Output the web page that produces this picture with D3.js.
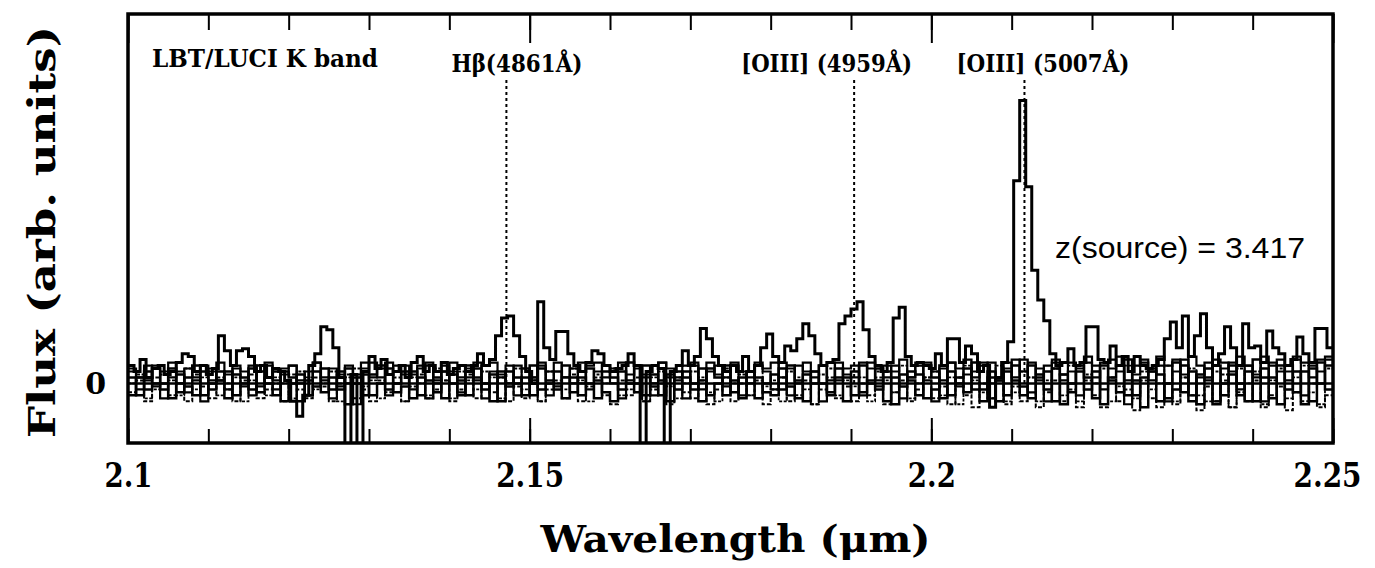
<!DOCTYPE html>
<html>
<head>
<meta charset="utf-8">
<script src="https://cdn.jsdelivr.net/npm/d3@7"></script>
<style>
  body { margin: 0; background: #fff; }
  svg { display: block; }
</style>
</head>
<body>
<svg id="chart" width="1375" height="568"></svg>
<script>
// wavelength grid (micron)
const xDomain = [2.1, 2.25];
const yDomain = [-1, 6.2];
const mainStart = 2.1, mainStep = 0.00075;
const noiseStart = 2.1, noiseStep = 0.001;

const minorTicks = d3.range(0, 16).map(i => +(2.1 + i * 0.01).toFixed(2));
const majorTicks = [2.1, 2.15, 2.2, 2.25];
const majorLabels = ["2.1", "2.15", "2.2", "2.25"];

const redshift = 3.417;
const lineRest = [4861, 4959, 5007];
const lineNames = ["H\u03B2(4861\u00C5)", "[OIII] (4959\u00C5)", "[OIII] (5007\u00C5)"];

// spectrum with the lines (flux, arb. units), 0.00075 um bins
const mainFlux = [
  0.3, 0.2, 0.4, 0.1, 0.25, 0.3, 0.15, 0.2, 0.35, 0.5,
  0.45, 0.2, 0.3, 0.15, 0.25, 0.8, 0.55, 0.3, 0.55, 0.58,
  0.45, 0.2, 0.3, 0.1, 0.25, 0.2, 0.05, -0.3, -0.55, -0.2,
  0.3, 0.5, 0.95, 0.9, 0.6, 0.1, -1.5, 0.15, -1.5, 0.2,
  0.45, 0.25, 0.4, 0.15, 0.2, 0.3, 0.1, 0.35, 0.45, 0.2,
  0.3, 0.2, 0.35, 0.15, 0.25, 0.3, 0.2, 0.3, 0.5, 0.3,
  0.4, 0.8, 1.1, 1.13, 0.8, 0.45, 0.2, 0.0, 1.37, 0.6,
  0.4, 0.87, 0.87, 0.5, 0.3, 0.2, 0.35, 0.55, 0.5, 0.3,
  0.2, 0.25, 0.3, 0.5, 0.3, -1.5, 0.2, 0.3, 0.25, -1.5,
  0.2, 0.3, 0.55, 0.3, 0.45, 0.92, 0.75, 0.45, 0.3, 0.2,
  0.3, 0.2, 0.45, 0.2, 0.3, 0.6, 0.83, 0.45, 0.35, 0.63,
  0.55, 0.75, 1.0, 0.8, 0.5, 0.3, 0.35, 0.4, 1.0, 1.13,
  1.25, 1.37, 0.9, 0.45, 0.3, 0.2, 0.35, 1.1, 1.28, 0.45,
  0.3, 0.35, 0.3, 0.25, 0.5, 0.3, 0.75, 0.75, 0.35, 0.63,
  0.5, 0.2, 0.3, -0.4, 0.1, 0.35, 0.7, 3.4, 4.75, 3.3,
  1.9, 1.4, 1.05, 0.5, 0.3, 0.35, 0.58, 0.3, 0.35, 0.95,
  0.95, 0.4, 0.35, 0.63, 0.3, 0.45, 0.2, 0.45, 0.3, 0.25,
  0.3, 0.4, 0.75, 1.03, 0.6, 1.13, 0.45, 0.8, 1.17, 0.6,
  0.3, 0.5, 0.95, 0.6, 0.3, 1.0, 0.6, 0.63, 0.35, 0.88,
  0.6, 0.5, 0.3, 0.4, 0.78, 0.5, 0.35, 0.92, 0.92, 0.6
];

// the other traces, 0.001 um bins
const noiseA = [
  0.1, -0.2, 0.2, 0.0, -0.1, 0.25, -0.15, 0.1, 0.3, -0.2,
  0.0, 0.2, -0.25, 0.15, 0.1, -0.1, 0.3, 0.0, -0.2, 0.2,
  0.1, -0.3, 0.05, 0.2, -0.15, 0.1, -0.1, 0.25, 0.0, -0.2,
  0.15, 0.3, -0.1, 0.0, 0.2, -0.25, 0.1, 0.05, -0.15, 0.2,
  0.0, -0.2, 0.3, 0.1, -0.1, 0.15, -0.3, 0.2, 0.0, 0.1,
  -0.2, 0.25, 0.05, -0.1, 0.3, -0.15, 0.1, 0.0, -0.25, 0.2,
  0.1, -0.1, 0.35, 0.0, -0.2, 0.15, 0.05, -0.3, 0.2, 0.1,
  -0.1, 0.25, -0.2, 0.0, 0.3, -0.15, 0.1, 0.2, -0.25, 0.0,
  0.15, -0.1, 0.3, 0.05, -0.3, 0.2, 0.0, -0.15, 0.25, 0.1,
  -0.2, 0.3, 0.0, -0.1, 0.2, -0.35, 0.15, 0.05, -0.2, 0.3,
  0.1, -0.25, 0.2, 0.0, -0.15, 0.35, -0.1, 0.1, -0.3, 0.2,
  0.05, -0.2, 0.3, 0.15, -0.1, 0.25, -0.35, 0.0, 0.2, 0.1,
  -0.25, 0.3, 0.05, -0.15, 0.4, -0.2, 0.1, 0.25, -0.3, 0.0,
  0.35, -0.15, 0.2, -0.35, 0.1, 0.3, -0.2, 0.15, 0.0, -0.3,
  0.4, 0.1, -0.25, 0.3, -0.1, 0.2, -0.35, 0.25, 0.0, 0.3
];
const noiseB = [
  -0.2, 0.1, -0.1, 0.25, 0.0, -0.25, 0.15, -0.05, -0.2, 0.2,
  -0.1, 0.05, 0.2, -0.2, 0.0, 0.25, -0.15, 0.1, 0.2, -0.3,
  0.0, 0.15, -0.2, -0.05, 0.25, -0.1, 0.2, -0.35, 0.1, 0.15,
  -0.2, 0.0, 0.25, -0.15, -0.05, 0.2, -0.2, 0.3, 0.1, -0.25,
  0.15, 0.05, -0.2, 0.25, 0.0, -0.3, 0.2, -0.05, 0.1, -0.2,
  0.3, -0.1, 0.0, 0.2, -0.25, 0.1, -0.2, 0.25, 0.05, -0.15,
  -0.3, 0.2, 0.0, -0.15, 0.3, -0.05, -0.2, 0.15, -0.1, 0.2,
  0.0, -0.3, 0.25, 0.1, -0.2, 0.05, -0.25, 0.2, 0.1, -0.15,
  -0.2, 0.25, -0.05, -0.25, 0.15, 0.0, 0.3, -0.2, 0.1, -0.3,
  0.2, -0.15, 0.05, 0.25, -0.3, 0.1, -0.05, 0.2, 0.15, -0.25,
  -0.1, 0.3, -0.2, 0.1, 0.25, -0.1, -0.3, 0.2, 0.05, -0.2,
  0.3, -0.05, -0.25, 0.1, 0.2, -0.3, 0.15, -0.15, 0.3, -0.1,
  0.2, -0.35, 0.1, 0.3, -0.2, 0.05, -0.4, 0.2, 0.15, -0.25,
  -0.1, 0.3, -0.3, 0.15, 0.25, -0.35, 0.0, 0.3, -0.2, 0.2,
  -0.3, 0.25, 0.1, -0.35, 0.3, -0.15, 0.2, -0.3, 0.35, -0.1
];
const noiseC = [
  0.0, 0.15, -0.25, -0.1, 0.2, 0.05, -0.2, 0.25, -0.1, 0.1,
  0.2, -0.2, 0.0, 0.1, -0.3, 0.05, 0.2, -0.2, 0.1, 0.0,
  -0.25, 0.2, 0.1, -0.1, 0.0, 0.2, -0.3, 0.1, 0.25, -0.05,
  0.05, -0.25, 0.15, 0.2, -0.3, 0.1, 0.0, -0.2, 0.25, 0.05,
  -0.25, 0.2, 0.05, -0.1, 0.2, 0.1, -0.25, 0.0, 0.25, -0.1,
  0.05, -0.3, 0.2, 0.0, -0.1, 0.25, 0.05, -0.3, 0.15, 0.0,
  0.25, -0.2, -0.1, 0.3, -0.3, 0.1, 0.2, -0.05, -0.25, 0.0,
  0.2, 0.1, -0.15, -0.3, 0.25, 0.0, 0.15, -0.2, 0.3, -0.05,
  0.05, -0.3, 0.2, 0.1, -0.1, -0.35, 0.15, 0.25, -0.2, 0.05,
  -0.05, 0.1, -0.3, 0.2, 0.05, -0.15, 0.3, -0.25, 0.0, 0.1,
  0.2, -0.2, 0.1, -0.35, 0.3, 0.05, -0.15, 0.0, 0.3, -0.3,
  -0.15, 0.2, 0.1, -0.3, 0.05, 0.25, -0.2, 0.3, -0.3, 0.15,
  0.0, 0.25, -0.3, -0.05, 0.3, -0.25, 0.2, -0.1, 0.0, 0.3,
  -0.3, 0.1, 0.25, -0.2, -0.3, 0.2, 0.15, -0.4, 0.25, 0.0,
  0.2, -0.35, 0.05, 0.25, -0.25, 0.1, 0.3, -0.15, -0.35, 0.25
];
const noiseD = [
  0.2, -0.1, 0.05, 0.3, -0.25, 0.1, 0.2, -0.15, 0.05, -0.3,
  0.25, 0.05, -0.1, 0.3, 0.2, -0.2, -0.05, 0.3, -0.1, 0.15,
  0.3, 0.0, -0.2, 0.35, 0.05, -0.25, 0.15, 0.0, -0.35, 0.25,
  0.35, 0.1, -0.2, 0.3, 0.15, -0.1, 0.3, -0.25, 0.0, 0.3,
  0.2, -0.15, 0.1, 0.35, -0.25, 0.2, 0.1, 0.3, -0.2, 0.25,
  0.1, 0.35, -0.2, -0.05, 0.1, 0.0, 0.35, -0.1, 0.2, 0.3,
  0.0, -0.25, 0.15, 0.25, 0.1, -0.2, 0.35, 0.1, 0.05, -0.25,
  0.3, -0.1, 0.35, 0.15, -0.05, 0.3, -0.2, 0.1, 0.35, 0.2,
  -0.1, 0.35, -0.2, 0.3, 0.2, 0.1, -0.3, 0.35, 0.05, 0.25,
  0.3, -0.2, 0.35, -0.05, 0.1, 0.3, -0.25, 0.1, 0.35, 0.05,
  -0.3, 0.25, 0.35, -0.05, 0.15, 0.2, 0.35, -0.25, 0.1, 0.35,
  0.1, 0.4, -0.15, 0.25, -0.3, 0.35, 0.05, 0.2, -0.2, 0.35,
  0.3, -0.1, 0.4, 0.2, -0.35, 0.15, 0.35, 0.05, 0.3, -0.3,
  0.2, 0.4, -0.2, 0.1, 0.35, -0.3, 0.25, 0.35, -0.1, 0.3,
  0.15, -0.3, 0.35, 0.2, 0.05, 0.4, -0.2, 0.3, 0.2, 0.4
];
const noiseE = [
  -0.15, 0.05, -0.3, 0.1, 0.15, -0.2, 0.0, -0.3, 0.15, -0.05,
  -0.25, 0.1, -0.1, -0.3, 0.05, 0.15, -0.25, -0.1, 0.0, -0.3,
  0.15, -0.1, -0.25, 0.1, -0.05, -0.3, 0.0, 0.15, -0.25, -0.1,
  -0.3, 0.05, -0.15, 0.1, -0.3, -0.05, 0.15, -0.25, -0.1, 0.05,
  -0.3, -0.1, 0.15, -0.25, 0.0, -0.15, 0.1, -0.3, -0.05, -0.25,
  0.1, -0.3, -0.1, 0.05, -0.25, 0.15, -0.3, -0.05, 0.1, -0.2,
  -0.35, 0.05, -0.2, 0.1, -0.3, -0.1, 0.0, -0.35, 0.1, -0.15,
  -0.25, 0.05, -0.35, -0.1, 0.1, -0.3, 0.0, -0.2, 0.05, -0.35,
  -0.1, 0.1, -0.3, -0.2, 0.05, -0.35, -0.1, 0.1, -0.25, -0.05,
  -0.3, 0.0, -0.2, 0.1, -0.35, -0.15, 0.05, -0.3, -0.1, 0.1,
  -0.25, -0.05, -0.35, 0.1, -0.2, -0.4, 0.0, -0.25, 0.1, -0.35,
  -0.05, -0.3, 0.1, -0.4, -0.15, 0.05, -0.3, -0.1, -0.4, 0.05,
  -0.2, -0.4, 0.1, -0.3, -0.1, -0.45, 0.05, -0.25, -0.4, 0.0,
  -0.35, 0.1, -0.2, -0.45, -0.05, -0.3, 0.05, -0.4, -0.15, -0.3,
  0.05, -0.4, -0.2, -0.05, -0.45, -0.15, -0.3, 0.0, -0.4, -0.2
];
const noiseF = [
  0.25, 0.1, 0.3, -0.05, 0.2, 0.35, 0.0, 0.25, 0.1, 0.3,
  0.05, 0.35, 0.15, 0.25, -0.05, 0.3, 0.2, 0.35, 0.05, 0.25,
  0.3, 0.05, 0.2, 0.35, 0.1, 0.25, -0.05, 0.3, 0.15, 0.35,
  0.1, 0.25, 0.35, 0.0, 0.3, 0.15, 0.25, 0.35, 0.05, 0.2,
  0.35, 0.1, 0.25, 0.05, 0.3, 0.35, 0.15, 0.0, 0.3, 0.25,
  0.05, 0.3, 0.2, 0.35, 0.1, 0.25, 0.0, 0.3, 0.35, 0.1,
  0.25, 0.35, 0.05, 0.3, 0.15, 0.0, 0.35, 0.25, 0.1, 0.3,
  0.35, 0.05, 0.2, 0.3, 0.1, 0.35, 0.2, 0.0, 0.3, 0.25,
  0.35, 0.1, 0.25, 0.0, 0.35, 0.2, 0.3, 0.05, 0.35, 0.15,
  0.1, 0.35, 0.25, 0.05, 0.3, 0.2, 0.4, 0.1, 0.3, 0.35,
  0.2, 0.05, 0.35, 0.25, 0.4, 0.1, 0.3, 0.35, 0.05, 0.25,
  0.4, 0.2, 0.35, 0.05, 0.3, 0.4, 0.15, 0.35, 0.25, 0.45,
  0.1, 0.35, 0.25, 0.45, 0.05, 0.3, 0.4, 0.2, 0.45, 0.3,
  0.4, 0.15, 0.45, 0.3, 0.05, 0.4, 0.35, 0.2, 0.45, 0.3,
  0.1, 0.45, 0.3, 0.4, 0.2, 0.45, 0.35, 0.1, 0.4, 0.45
];

const serif = "'DejaVu Serif', serif";

const svg = d3.select("#chart");
const plotLeft = 128, plotRight = 1333, plotTop = 14, plotBottom = 443;

const x = d3.scaleLinear().domain(xDomain).range([plotLeft, plotRight]);
const y = d3.scaleLinear().domain(yDomain).range([plotBottom, plotTop]);

svg.append("defs").append("clipPath").attr("id", "plot")
    .append("rect")
    .attr("x", plotLeft).attr("y", plotTop)
    .attr("width", plotRight - plotLeft).attr("height", plotBottom - plotTop);

// step points: one per bin edge plus the closing edge
function steps(values, start, step) {
    const pts = values.map((v, i) => [start + i * step, v]);
    pts.push([start + values.length * step, values[values.length - 1]]);
    return pts;
}

const stepLine = d3.line()
    .x(d => x(d[0]))
    .y(d => y(d[1]))
    .curve(d3.curveStepAfter);

const plot = svg.append("g").attr("clip-path", "url(#plot)");

const noiseSets = [
    {data: noiseA, w: 2.5},
    {data: noiseB, w: 2.5},
    {data: noiseC, w: 1.8, dash: "3,1.5"},
    {data: noiseD, w: 2.2},
    {data: noiseE, w: 2, dash: "4,2"},
    {data: noiseF, w: 2.2}
];

plot.selectAll("path.noise")
    .data(noiseSets)
    .join("path")
    .attr("class", "noise")
    .attr("d", d => stepLine(steps(d.data, noiseStart, noiseStep)))
    .attr("fill", "none")
    .attr("stroke", "#000")
    .attr("stroke-width", d => d.w)
    .attr("stroke-dasharray", d => d.dash || null);

plot.append("line")
    .attr("x1", plotLeft).attr("x2", plotRight)
    .attr("y1", y(0)).attr("y2", y(0))
    .attr("stroke", "#000")
    .attr("stroke-width", 2.5);

// line markers
const lineObs = lineRest.map(l => l * (1 + redshift) / 1e4);

plot.selectAll("line.marker")
    .data(lineObs)
    .join("line")
    .attr("class", "marker")
    .attr("x1", d => x(d)).attr("x2", d => x(d))
    .attr("y1", 80).attr("y2", y(0))
    .attr("stroke", "#000")
    .attr("stroke-width", 2)
    .attr("stroke-dasharray", "3,3");

plot.append("path")
    .attr("d", stepLine(steps(mainFlux, mainStart, mainStep)))
    .attr("fill", "none")
    .attr("stroke", "#000")
    .attr("stroke-width", 3)
    .attr("stroke-linejoin", "miter");

// axes: ticks on the inside, labels only at the bottom
const axisStyle = g => {
    g.select(".domain").remove();
    g.selectAll(".tick line").attr("stroke", "#000").attr("stroke-width", 2);
};

svg.append("g")
    .attr("transform", `translate(0,${plotBottom})`)
    .call(d3.axisBottom(x).tickValues(minorTicks).tickSize(-14).tickFormat(""))
    .call(axisStyle);

svg.append("g")
    .attr("transform", `translate(0,${plotBottom})`)
    .call(d3.axisBottom(x).tickValues(majorTicks).tickSize(-25).tickPadding(20)
        .tickFormat((d, i) => majorLabels[i]))
    .call(axisStyle)
    .call(g => g.selectAll(".tick text")
        .attr("fill", "#000")
        .attr("dx", (d, i) => i === majorTicks.length - 1 ? -6 : 0)
        .style("font-family", serif)
        .style("font-weight", "bold")
        .style("font-size", "34px")
        .attr("textLength", (d, i) => i % 2 ? 68 : 48)
        .attr("lengthAdjust", "spacingAndGlyphs"));

svg.append("g")
    .attr("transform", `translate(0,${plotTop})`)
    .call(d3.axisTop(x).tickValues(minorTicks).tickSize(-16).tickFormat(""))
    .call(axisStyle);

svg.append("g")
    .attr("transform", `translate(0,${plotTop})`)
    .call(d3.axisTop(x).tickValues(majorTicks).tickSize(-29).tickFormat(""))
    .call(axisStyle);

// frame
svg.append("rect")
    .attr("x", plotLeft).attr("y", plotTop)
    .attr("width", plotRight - plotLeft).attr("height", plotBottom - plotTop)
    .attr("fill", "none")
    .attr("stroke", "#000")
    .attr("stroke-width", 3.5);

// y zero label
svg.append("text")
    .attr("x", 106).attr("y", y(0) + 11)
    .attr("text-anchor", "end")
    .style("font-family", serif).style("font-weight", "bold").style("font-size", "30px")
    .text("0");

// axis titles
svg.append("text")
    .attr("x", (plotLeft + plotRight) / 2 + 5).attr("y", 552)
    .attr("text-anchor", "middle")
    .attr("textLength", 390).attr("lengthAdjust", "spacingAndGlyphs")
    .style("font-family", serif).style("font-weight", "bold").style("font-size", "38px")
    .text("Wavelength (\u03BCm)");

svg.append("text")
    .attr("transform", `translate(55,${232}) rotate(-90)`)
    .attr("text-anchor", "middle")
    .attr("textLength", 412).attr("lengthAdjust", "spacingAndGlyphs")
    .style("font-family", serif).style("font-weight", "bold").style("font-size", "38px")
    .text("Flux (arb. units)");

// annotations
const labelFont = g => g
    .style("font-family", serif).style("font-weight", "bold").style("font-size", "24px")
    .attr("lengthAdjust", "spacingAndGlyphs");

svg.append("text")
    .attr("x", 152).attr("y", 67)
    .attr("textLength", 226)
    .call(labelFont)
    .text("LBT/LUCI K band");

const labelOffset = [-55, -113, -68];
const labelWidth = [131, 171, 173];
svg.selectAll("text.line-name")
    .data(lineObs)
    .join("text")
    .attr("class", "line-name")
    .attr("x", (d, i) => x(d) + labelOffset[i])
    .attr("y", 72)
    .attr("textLength", (d, i) => labelWidth[i])
    .call(labelFont)
    .text((d, i) => lineNames[i]);

svg.append("text")
    .attr("x", 1055).attr("y", 258)
    .attr("textLength", 250).attr("lengthAdjust", "spacingAndGlyphs")
    .style("font-family", "'Liberation Sans', Arial, sans-serif")
    .style("font-size", "30px")
    .text(`z(source) = ${redshift}`);
</script>
</body>
</html>
